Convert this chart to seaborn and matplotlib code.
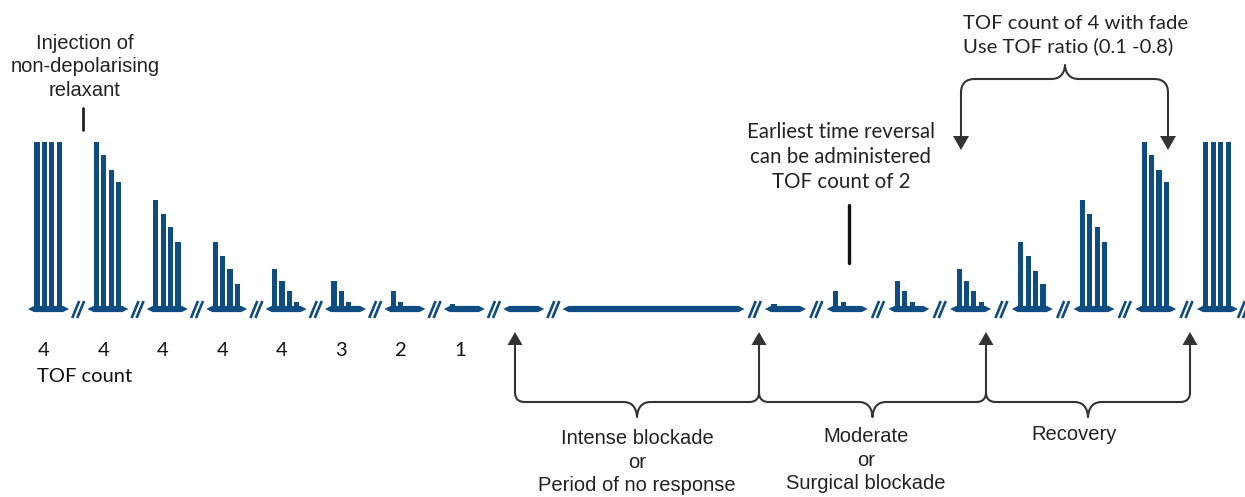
import numpy as np
import pandas as pd
import matplotlib
matplotlib.use('Agg')
import matplotlib.pyplot as plt
import seaborn as sns

# twitch heights (fraction of control) of each train-of-four, onset side
onset_heights = [
    [1.0, 1.0, 1.0, 1.0],
    [1.0, 0.92, 0.83, 0.76],
    [0.65, 0.57, 0.49, 0.40],
    [0.40, 0.32, 0.24, 0.15],
    [0.24, 0.17, 0.11, 0.04],
    [0.17, 0.11, 0.04],
    [0.11, 0.04],
    [0.03],
    [],
    [],  # long period of no response
]
# recovery side
recovery_heights = [
    [0.03],
    [0.11, 0.04],
    [0.17, 0.11, 0.04],
    [0.24, 0.17, 0.11, 0.04],
    [0.40, 0.32, 0.23, 0.15],
    [0.65, 0.57, 0.49, 0.40],
    [1.0, 0.92, 0.83, 0.76],
    [1.0, 1.0, 1.0, 1.0],
]
tof_counts = ['4', '4', '4', '4', '4', '3', '2', '1']
phase_labels = ['Intense blockade\nor\nPeriod of no response',
                'Moderate\nor\nSurgical blockade',
                'Recovery']
injection_label = 'Injection of\nnon-depolarising\nrelaxant'
reversal_label = 'Earliest time reversal\ncan be administered\nTOF count of 2'
fade_label = 'TOF count of 4 with fade\nUse TOF ratio (0.1 -0.8)'

BLUE = '#0f4c81'
GREY = '#333333'
W, H = 1245, 497
BASE_PX = 309   # pixel row of the baseline
UNIT_PX = 167   # pixels for a control twitch


def py(p):
    # pixel row -> data y
    return (BASE_PX - p) / UNIT_PX


# layout of the stimulation segments along the time line
heights = onset_heights + recovery_heights
starts = [28 + 59.4 * k for k in range(len(onset_heights))]
starts += [765 + 61.7 * k for k in range(len(recovery_heights))]
lengths = [41] * len(starts)
lengths[len(onset_heights) - 1] = 182

rows = []
for s, hs in zip(starts, heights):
    for j, h in enumerate(hs):
        rows.append({'t': s + 9 + 7.4 * j, 'height': h})
bars = pd.DataFrame(rows)

sns.set_theme(style='white')
plt.rcParams['font.family'] = ['Liberation Sans', 'DejaVu Sans']
CALIBRI = ['Lato', 'DejaVu Sans']

fig = plt.figure(figsize=(W / 100, H / 100), dpi=100)
ax = fig.add_axes([0, 0, 1, 1])

sns.barplot(data=bars, x='t', y='height', native_scale=True, width=0.68,
            color=BLUE, saturation=1, errorbar=None, linewidth=0, ax=ax, zorder=2)

# time-line segments with pointed ends
half = 3.1 / UNIT_PX
for s, L in zip(starts, lengths):
    xs = [s, s + 6, s + L - 6, s + L, s + L - 6, s + 6]
    ys = [0, half, half, 0, -half, -half]
    ax.fill(xs, ys, color=BLUE, lw=0, zorder=3)

# break marks "//" between segments
ends = [s + L for s, L in zip(starts, lengths)]
centres = [(e + n) / 2 for e, n in zip(ends[:-1], starts[1:])] + [ends[-1] + 6]
for c in centres:
    for d in (-2.5, 2.5):
        ax.plot([c + d - 3.5, c + d + 3.5], [py(318), py(301)], color=BLUE,
                lw=1.9, solid_capstyle='butt', zorder=3)

# TOF count labels
for s, lab in zip(starts, tof_counts):
    ax.text(s + 16, py(350), lab, ha='center', va='center', fontsize=14.5,
            family=CALIBRI, color='#111111')
ax.text(37, py(377), 'TOF count', ha='left', va='center', fontsize=14.5,
        family=CALIBRI, color='#111111')


def brace(x0, x1, y_line, sign, r, cusp, xm=None):
    # curly brace from x0 to x1 along y_line (pixels); sign=+1 cusp points down
    if xm is None:
        xm = (x0 + x1) / 2
    t = np.linspace(0, 1, 20)

    def quad(p0, p1, p2):
        p0, p1, p2 = map(np.array, (p0, p1, p2))
        return ((1 - t)[:, None] ** 2 * p0 + 2 * ((1 - t) * t)[:, None] * p1
                + (t ** 2)[:, None] * p2)

    parts = [
        quad((x0, y_line - sign * r), (x0, y_line), (x0 + r, y_line)),
        quad((xm - 14, y_line), (xm - 1, y_line), (xm, y_line + sign * cusp)),
        quad((xm, y_line + sign * cusp), (xm + 1, y_line), (xm + 14, y_line)),
        quad((x1 - r, y_line), (x1, y_line), (x1, y_line - sign * r)),
    ]
    pts = np.vstack(parts)
    ax.plot(pts[:, 0], [py(v) for v in pts[:, 1]], color=GREY, lw=1.5,
            solid_joinstyle='round', zorder=4)


def arrow(x, tip, base, stem_end, half_w=7.5):
    ax.plot([x, x], [py(base), py(stem_end)], color=GREY, lw=1.5, zorder=4)
    ax.fill([x - half_w, x + half_w, x], [py(base), py(base), py(tip)],
            color=GREY, lw=0, zorder=4)


# bottom phase braces
marks = [515, 759, 986, 1190]
for x in marks:
    arrow(x, 332, 345, 392)
for (a, b) in zip(marks[:-1], marks[1:]):
    brace(a, b, 402, 1, 10, 15)
phase_x = [637, 866, 1074]
phase_y = [462, 460, 435]
for x, y, lab in zip(phase_x, phase_y, phase_labels):
    ax.text(x, py(y), lab, ha='center', va='center', fontsize=14.5,
            linespacing=1.33, color='#222222')

# top brace for TOF ratio
for x in (961, 1168):
    arrow(x, 150, 136, 93, half_w=8)
brace(961, 1168, 79, -1, 14, 14, xm=1065)
ax.text(963, py(35), fade_label, ha='left', va='center', fontsize=14.6,
        linespacing=1.3, family=CALIBRI, color='#222222')

# injection marker
ax.plot([83, 83], [py(108), py(130)], color='#222222', lw=2)
ax.text(85, py(67), injection_label, ha='center', va='center', fontsize=14.5,
        linespacing=1.27, color='#222222')

# earliest reversal marker
ax.plot([849, 849], [py(205), py(263)], color='#111111', lw=2.4)
ax.text(841, py(157), reversal_label, ha='center', va='center', fontsize=14.8,
        linespacing=1.3, family=CALIBRI, color='#222222')

ax.set_xlim(0, W)
ax.set_ylim(py(H), py(0))
ax.axis('off')

fig.savefig('out.png', dpi=100, facecolor='white')
